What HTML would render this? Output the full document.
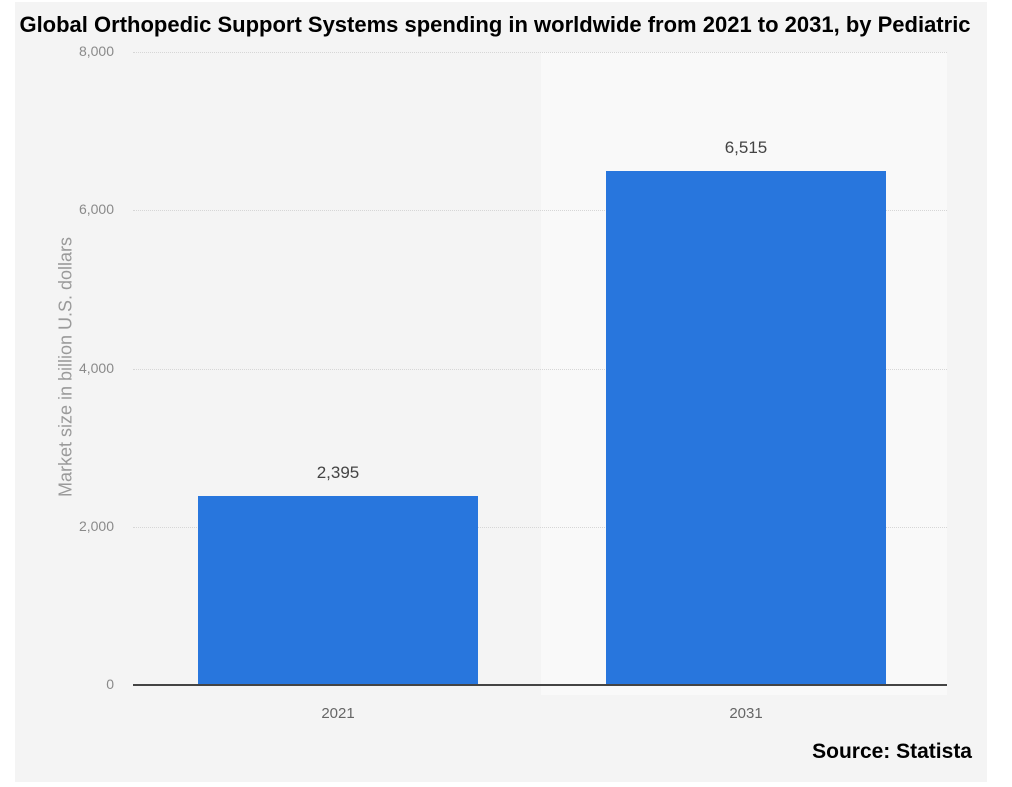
<!DOCTYPE html>
<html><head><style>
body{margin:0;width:1012px;height:787px;background:#fff;position:relative;overflow:hidden;font-family:"Liberation Sans",sans-serif}
.a{position:absolute}
.t{font-family:"Liberation Sans",sans-serif;color:#000;font-weight:bold}
.tick{color:#8a8a8a;font-size:14px;text-align:right;width:62px;left:52px}
.g{left:133px;width:814px;border-top:1px dotted #d6d6d6;height:0}
</style></head><body>
<div class="a" style="left:15px;top:2px;width:972px;height:780px;background:#f4f4f4"></div>
<div class="a" style="left:541px;top:52px;width:406px;height:643px;background:#f9f9f9"></div>
<div class="a t" style="left:0;width:990px;top:12px;text-align:center;font-size:22px;white-space:nowrap">Global Orthopedic Support Systems spending in worldwide from 2021 to 2031, by Pediatric</div>
<div class="a g" style="top:52px"></div>
<div class="a g" style="top:210px"></div>
<div class="a g" style="top:369px"></div>
<div class="a g" style="top:527px"></div>
<div class="a tick" style="top:43px">8,000</div>
<div class="a tick" style="top:201px">6,000</div>
<div class="a tick" style="top:360px">4,000</div>
<div class="a tick" style="top:518px">2,000</div>
<div class="a tick" style="top:676px">0</div>
<div class="a" style="left:66px;top:367px;width:0;height:0"><div style="position:absolute;transform:translate(-50%,-50%) rotate(-90deg);white-space:nowrap;color:#9a9a9a;font-size:18px">Market size in billion U.S. dollars</div></div>
<div class="a" style="left:198px;top:496px;width:280px;height:189px;background:#2876dd"></div>
<div class="a" style="left:606px;top:171px;width:280px;height:514px;background:#2876dd"></div>
<div class="a" style="left:133px;top:684px;width:814px;height:2px;background:#444"></div>
<div class="a" style="left:198px;width:280px;top:463px;text-align:center;font-size:17px;color:#444">2,395</div>
<div class="a" style="left:606px;width:280px;top:138px;text-align:center;font-size:17px;color:#444">6,515</div>
<div class="a" style="left:198px;width:280px;top:705px;text-align:center;font-size:15px;color:#666">2021</div>
<div class="a" style="left:606px;width:280px;top:705px;text-align:center;font-size:15px;color:#666">2031</div>
<div class="a t" style="left:780px;width:192px;top:740px;text-align:right;font-size:21px">Source: Statista</div>
</body></html>
